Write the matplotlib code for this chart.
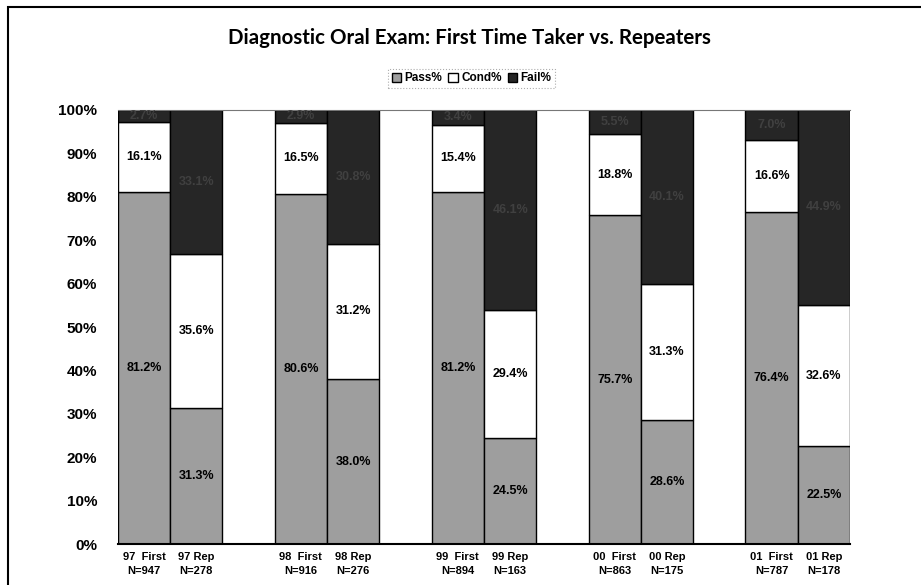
import numpy as np
import matplotlib.pyplot as plt
from matplotlib.patches import Rectangle

plt.rcParams["font.family"] = ["Liberation Sans", "DejaVu Sans"]

years = ["97", "98", "99", "00", "01"]
n_first = [947, 916, 894, 863, 787]
n_rep = [278, 276, 163, 175, 178]

pass_first = [81.2, 80.6, 81.2, 75.7, 76.4]
cond_first = [16.1, 16.5, 15.4, 18.8, 16.6]
fail_first = [2.7, 2.9, 3.4, 5.5, 7.0]

pass_rep = [31.3, 38.0, 24.5, 28.6, 22.5]
cond_rep = [35.6, 31.2, 29.4, 31.3, 32.6]
fail_rep = [33.1, 30.8, 46.1, 40.1, 44.9]

# interleave first / repeat bars, one empty slot between years
labels, pass_v, cond_v, fail_v, pos = [], [], [], [], []
for i, y in enumerate(years):
    labels += [f"{y}  First\nN={n_first[i]}", f"{y} Rep\nN={n_rep[i]}"]
    pass_v += [pass_first[i], pass_rep[i]]
    cond_v += [cond_first[i], cond_rep[i]]
    fail_v += [fail_first[i], fail_rep[i]]
    pos += [i * 3, i * 3 + 1]
pass_v, cond_v, fail_v = map(np.array, (pass_v, cond_v, fail_v))

c_pass, c_cond, c_fail = "#9e9e9e", "#ffffff", "#262626"

fig = plt.figure(figsize=(9.21, 5.85), dpi=100)
ax = fig.add_axes([0.128, 0.070, 0.795, 0.742])

kw = dict(width=1.0, edgecolor="black", linewidth=1.0)
ax.bar(pos, pass_v, color=c_pass, label="Pass%", **kw)
ax.bar(pos, cond_v, bottom=pass_v, color=c_cond, label="Cond%", **kw)
ax.bar(pos, fail_v, bottom=pass_v + cond_v, color=c_fail, label="Fail%", **kw)

for x, p, c, f in zip(pos, pass_v, cond_v, fail_v):
    ax.text(x, p / 2, f"{p:.1f}%", ha="center", va="center",
            fontsize=9, fontweight="bold", color="black")
    ax.text(x, p + c / 2, f"{c:.1f}%", ha="center", va="center",
            fontsize=9, fontweight="bold", color="black")
    ax.text(x, p + c + f / 2, f"{f:.1f}%", ha="center", va="center",
            fontsize=9, fontweight="bold", color="#404040")

ax.set_xlim(-0.5, 13.5)
ax.set_ylim(0, 100)
ax.set_yticks(range(0, 101, 10))
ax.set_yticklabels([f"{v}%" for v in range(0, 101, 10)],
                   fontsize=11, fontweight="bold")
ax.set_xticks(pos)
ax.set_xticklabels(labels, fontsize=8, fontweight="bold", linespacing=1.4)
ax.tick_params(axis="y", length=0, pad=15)
ax.tick_params(axis="x", length=0, pad=6)

for s in ["left", "right"]:
    ax.spines[s].set_visible(False)
ax.spines["top"].set_color("#777777")
ax.spines["top"].set_linewidth(0.8)
ax.spines["bottom"].set_linewidth(1.5)

fig.text(0.51, 0.935, "Diagnostic Oral Exam: First Time Taker vs. Repeaters",
         ha="center", va="center", fontsize=14.8, fontweight="bold",
         family="Lato")

leg = fig.legend(loc="center", bbox_to_anchor=(0.512, 0.866), ncol=3,
                 fontsize=8.5, frameon=True, fancybox=False,
                 handlelength=0.8, handleheight=0.8, handletextpad=0.3,
                 columnspacing=0.5, borderpad=0.3)
for t in leg.get_texts():
    t.set_fontweight("bold")
leg.get_frame().set_edgecolor("#999999")
leg.get_frame().set_linestyle(":")
leg.get_frame().set_linewidth(0.8)

# outer frame of the chart
fig.patches.append(Rectangle((8 / 921, -0.1), 1.2, 1 - 7 / 585 + 0.1,
                             transform=fig.transFigure, fill=False,
                             edgecolor="black", linewidth=1.5))

fig.savefig("out.png", dpi=100)
